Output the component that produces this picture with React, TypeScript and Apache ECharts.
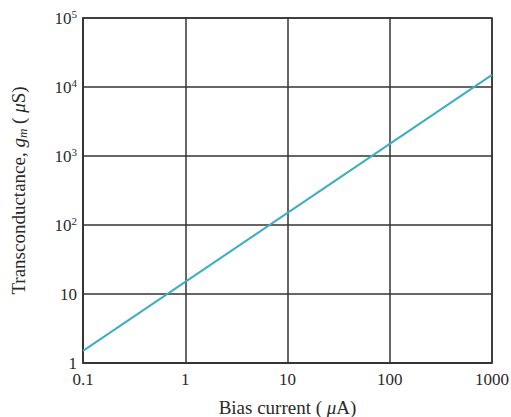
import React, { useEffect, useRef } from "react";
import * as echarts from "echarts";

const biasCurrent = [0.1, 1, 10, 100, 1000];
const transconductance = [1.5, 15, 150, 1500, 15000];

const xTickLabels: Record<string, string> = { "-1": "0.1", "0": "1", "1": "10", "2": "100", "3": "1000" };
const yTickLabels: Record<string, string> = { "0": "1", "1": "10", "2": "10{sup|2}", "3": "10{sup|3}", "4": "10{sup|4}", "5": "10{sup|5}" };

const FONT = "'Liberation Serif', 'DejaVu Serif', serif";
const TEXT = "#2a2a2a";

export default function App() {
  const ref = useRef<HTMLDivElement>(null);
  useEffect(() => {
    if (!ref.current) return;
    const chart = echarts.init(ref.current, null, { renderer: "svg" });
    chart.setOption({
      animation: false,
      backgroundColor: "#ffffff",
      grid: {
        left: 83,
        top: 18,
        right: 19,
        bottom: 54,
        containLabel: false,
        outerBoundsMode: "none",
        show: true,
        borderColor: "#333",
        borderWidth: 1.5,
      },
      xAxis: {
        type: "log",
        logBase: 10,
        min: 0.1,
        max: 1000,
        name: "Bias current ( {i|μ}A)",
        nameLocation: "middle",
        nameGap: 35,
        nameTextStyle: {
          fontFamily: FONT,
          fontSize: 19,
          color: TEXT,
          rich: { i: { fontFamily: FONT, fontSize: 19, fontStyle: "italic", color: TEXT } },
        },
        axisLine: { show: true, lineStyle: { color: "#333", width: 1.5 } },
        axisTick: { show: false },
        splitLine: { show: true, lineStyle: { color: "#333", width: 1.5 } },
        axisLabel: {
          margin: 8,
          fontFamily: FONT,
          fontSize: 17,
          color: TEXT,
          formatter: (v: number) => xTickLabels[String(Math.round(Math.log10(v)))] ?? "",
        },
      },
      yAxis: {
        type: "log",
        logBase: 10,
        min: 1,
        max: 100000,
        name: "Transconductance, {i|g}{sub|m} ( {i|μ}S)",
        nameLocation: "middle",
        nameGap: 54,
        nameTextStyle: {
          fontFamily: FONT,
          fontSize: 19,
          color: TEXT,
          rich: {
            i: { fontFamily: FONT, fontSize: 19, fontStyle: "italic", color: TEXT },
            sub: { fontFamily: FONT, fontSize: 13, fontStyle: "italic", color: TEXT, verticalAlign: "bottom", padding: [8, 0, 0, 0] },
          },
        },
        axisLine: { show: true, lineStyle: { color: "#333", width: 1.5 } },
        axisTick: { show: false },
        splitLine: { show: true, lineStyle: { color: "#333", width: 1.5 } },
        axisLabel: {
          margin: 6,
          fontFamily: FONT,
          fontSize: 17,
          color: TEXT,
          formatter: (v: number) => yTickLabels[String(Math.round(Math.log10(v)))] ?? "",
          rich: {
            sup: { fontFamily: FONT, fontSize: 11, color: TEXT, verticalAlign: "top", padding: [0, 0, 9, 0] },
          },
        },
      },
      series: [
        {
          type: "line",
          data: biasCurrent.map((x, i) => [x, transconductance[i]]),
          showSymbol: false,
          lineStyle: { color: "#3eaec4", width: 2 },
        },
      ],
    });
    return () => chart.dispose();
  }, []);
  return (
    <div
      ref={ref}
      style={{ position: "fixed", left: 0, top: 0, width: 511, height: 417, background: "#fff" }}
    />
  );
}
